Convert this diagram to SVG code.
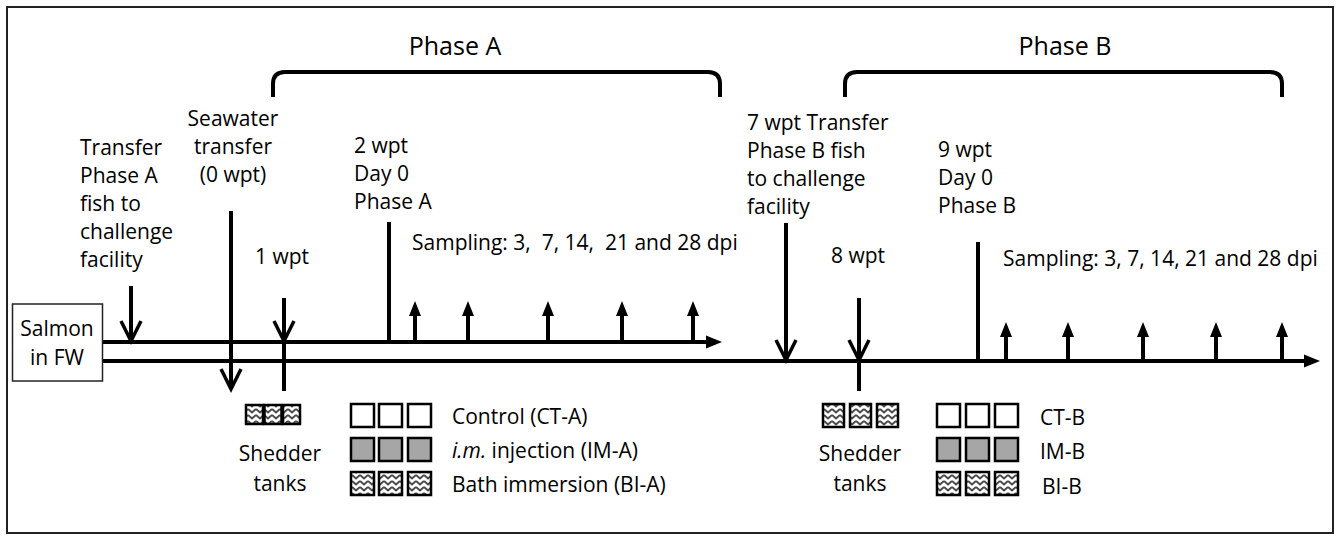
<svg xmlns="http://www.w3.org/2000/svg" width="1340" height="540" viewBox="0 0 1340 540">
<style>
text{font-family:"Open Sans","Liberation Sans",sans-serif;font-size:21px;fill:#000}
.title{font-size:25px}
.pre{white-space:pre}
.ln{stroke:#000;stroke-width:4;fill:none}
.v{stroke:#000;stroke-width:3.5;fill:none;stroke-linejoin:miter}
.br{stroke:#000;stroke-width:4;fill:none}
.tk{stroke:#000;stroke-width:2.5}
.w{fill:#fff}
.g{fill:#a6a6a6}
.z{fill:url(#zig)}
</style>
<defs>
<pattern id="zig" patternUnits="userSpaceOnUse" width="8" height="6">
<rect width="8" height="6" fill="#fff"/>
<path d="M0,1 L4,4.5 L8,1" stroke="#4a4a4a" stroke-width="2" fill="none"/>
</pattern>
</defs>
<rect x="7" y="7" width="1326" height="526" fill="#fff" stroke="#222" stroke-width="2"/>

<g id="phaseA-title">
<text class="title" x="455" y="55" text-anchor="middle">Phase A</text>
<path class="br" d="M273,97 V84 Q273,72 285,72 H708 Q720,72 720,84 V97"/>
</g>
<g id="phaseB-title">
<text class="title" x="1065" y="55" text-anchor="middle">Phase B</text>
<path class="br" d="M845,97 V84 Q845,72 857,72 H1270 Q1282,72 1282,84 V97"/>
</g>

<g id="salmon">
<rect x="12.5" y="304" width="90" height="77" fill="#fff" stroke="#222" stroke-width="1.5"/>
<text x="57" y="336" text-anchor="middle">Salmon</text>
<text x="57" y="365" text-anchor="middle">in FW</text>
</g>

<g id="label-transferA">
<text x="80" y="155">Transfer</text>
<text x="80" y="183">Phase A</text>
<text x="80" y="211">fish to</text>
<text x="80" y="239">challenge</text>
<text x="80" y="267">facility</text>
</g>
<g id="label-seawater">
<text x="233" y="126" text-anchor="middle">Seawater</text>
<text x="233" y="154" text-anchor="middle">transfer</text>
<text x="233" y="182" text-anchor="middle">(0 wpt)</text>
</g>
<g id="label-1wpt"><text x="255" y="264">1 wpt</text></g>
<g id="label-2wpt">
<text x="354" y="153">2 wpt</text>
<text x="354" y="181">Day 0</text>
<text x="354" y="209">Phase A</text>
</g>
<g id="label-samplingA"><text class="pre" x="412" y="250">Sampling: 3,  7, 14,  21 and 28 dpi</text></g>
<g id="label-7wpt">
<text x="747" y="130">7 wpt Transfer</text>
<text x="747" y="158">Phase B fish</text>
<text x="747" y="186">to challenge</text>
<text x="747" y="214">facility</text>
</g>
<g id="label-8wpt"><text x="831" y="263">8 wpt</text></g>
<g id="label-9wpt">
<text x="938" y="157">9 wpt</text>
<text x="938" y="185">Day 0</text>
<text x="938" y="213">Phase B</text>
</g>
<g id="label-samplingB"><text x="1003" y="266">Sampling: 3, 7, 14, 21 and 28 dpi</text></g>

<g id="connectors">
<path class="ln" d="M103,342 H710"/>
<polygon points="706,335.5 722,342 706,348.5"/>
<path class="ln" d="M103,361 H1308"/>
<polygon points="1304,354.5 1320,361 1304,367.5"/>

<path class="ln" d="M131,286 V340"/>
<path class="v" d="M121,321 L131,341 L141,321"/>
<path class="ln" d="M231,211 V388"/>
<path class="v" d="M221,369 L231,389 L241,369"/>
<path class="ln" d="M284,298 V391"/>
<path class="v" d="M274,321 L284,341 L294,321"/>
<path class="ln" d="M389,222 V344"/>

<path class="ln" d="M415,342 V314"/><polygon points="409,316 415,301 421,316"/>
<path class="ln" d="M468,342 V314"/><polygon points="462,316 468,301 474,316"/>
<path class="ln" d="M548,342 V314"/><polygon points="542,316 548,301 554,316"/>
<path class="ln" d="M622,342 V314"/><polygon points="616,316 622,301 628,316"/>
<path class="ln" d="M693,342 V314"/><polygon points="687,316 693,301 699,316"/>

<path class="ln" d="M786,223 V359"/>
<path class="v" d="M776,340 L786,360 L796,340"/>
<path class="ln" d="M859,298 V391"/>
<path class="v" d="M849,340 L859,360 L869,340"/>
<path class="ln" d="M978,242 V363"/>

<path class="ln" d="M1006,361 V335"/><polygon points="1000,337 1006,322 1012,337"/>
<path class="ln" d="M1068,361 V335"/><polygon points="1062,337 1068,322 1074,337"/>
<path class="ln" d="M1143,361 V335"/><polygon points="1137,337 1143,322 1149,337"/>
<path class="ln" d="M1216,361 V335"/><polygon points="1210,337 1216,322 1222,337"/>
<path class="ln" d="M1282,361 V335"/><polygon points="1276,337 1282,322 1288,337"/>
</g>

<g id="shedderA">
<rect class="tk z" x="246" y="405" width="17" height="19"/>
<rect class="tk z" x="264.5" y="405" width="17" height="19"/>
<rect class="tk z" x="283" y="405" width="17" height="19"/>
<text x="280" y="461" text-anchor="middle">Shedder</text>
<text x="280" y="491" text-anchor="middle">tanks</text>
</g>
<g id="groupsA">
<rect class="tk w" x="351" y="404" width="23" height="23"/>
<rect class="tk w" x="379" y="404" width="23" height="23"/>
<rect class="tk w" x="408" y="404" width="23" height="23"/>
<rect class="tk g" x="351" y="438" width="23" height="23"/>
<rect class="tk g" x="379" y="438" width="23" height="23"/>
<rect class="tk g" x="408" y="438" width="23" height="23"/>
<rect class="tk z" x="351" y="472" width="23" height="23"/>
<rect class="tk z" x="379" y="472" width="23" height="23"/>
<rect class="tk z" x="408" y="472" width="23" height="23"/>
<text x="452" y="424">Control (CT-A)</text>
<text x="452" y="458"><tspan font-style="italic">i.m.</tspan> injection (IM-A)</text>
<text x="452" y="492">Bath immersion (BI-A)</text>
</g>
<g id="shedderB">
<rect class="tk z" x="823" y="404" width="21" height="23"/>
<rect class="tk z" x="850" y="404" width="21" height="23"/>
<rect class="tk z" x="877" y="404" width="21" height="23"/>
<text x="860" y="461" text-anchor="middle">Shedder</text>
<text x="860" y="491" text-anchor="middle">tanks</text>
</g>
<g id="groupsB">
<rect class="tk w" x="937" y="404" width="23" height="23"/>
<rect class="tk w" x="966" y="404" width="23" height="23"/>
<rect class="tk w" x="995" y="404" width="23" height="23"/>
<rect class="tk g" x="937" y="438" width="23" height="23"/>
<rect class="tk g" x="966" y="438" width="23" height="23"/>
<rect class="tk g" x="995" y="438" width="23" height="23"/>
<rect class="tk z" x="937" y="472" width="23" height="23"/>
<rect class="tk z" x="966" y="472" width="23" height="23"/>
<rect class="tk z" x="995" y="472" width="23" height="23"/>
<text x="1040" y="425">CT-B</text>
<text x="1040" y="459">IM-B</text>
<text x="1042" y="494">BI-B</text>
</g>
</svg>
